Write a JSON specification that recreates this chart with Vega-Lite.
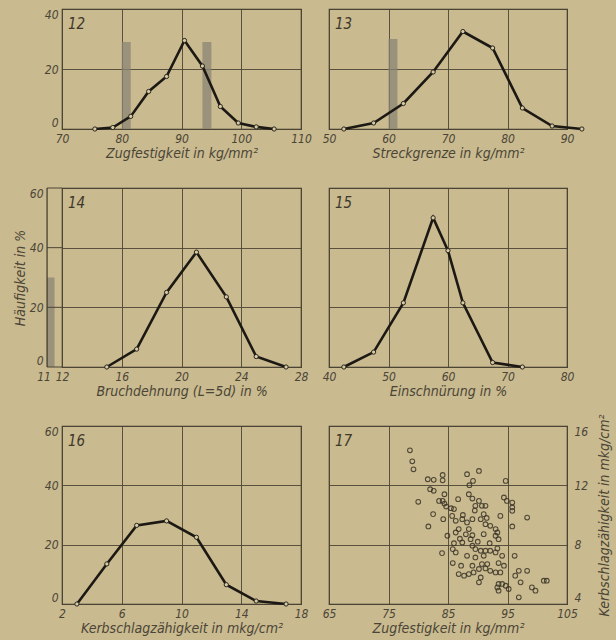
{
  "$schema": "https://vega.github.io/schema/vega-lite/v6.json",
  "background": "#c9ba8f",
  "padding": {"left": 12, "top": 7, "right": 4, "bottom": 4},
  "bounds": "flush",
  "columns": 2,
  "spacing": {"row": 59, "column": 28},
  "datasets": {
    "p12": [{"x": 75.5, "y": 0}, {"x": 78.5, "y": 0.5}, {"x": 81.5, "y": 4.2}, {"x": 84.5, "y": 12.5}, {"x": 87.5, "y": 17.5}, {"x": 90.5, "y": 29.5}, {"x": 93.5, "y": 21}, {"x": 96.5, "y": 7.5}, {"x": 99.5, "y": 2}, {"x": 102.5, "y": 0.7}, {"x": 105.5, "y": 0}],
    "b12": [{"x0": 80, "x1": 81.5, "y0": 0, "y1": 29}, {"x0": 93.5, "x1": 95, "y0": 0, "y1": 29}],
    "p13": [{"x": 52.5, "y": 0}, {"x": 57.5, "y": 2}, {"x": 62.5, "y": 8.5}, {"x": 67.5, "y": 19}, {"x": 72.5, "y": 32.5}, {"x": 77.5, "y": 27}, {"x": 82.5, "y": 7}, {"x": 87.5, "y": 1}, {"x": 92.5, "y": 0}],
    "b13": [{"x0": 60, "x1": 61.5, "y0": 0, "y1": 30}],
    "p14": [{"x": 15, "y": 0}, {"x": 17, "y": 6}, {"x": 19, "y": 25}, {"x": 21, "y": 38.5}, {"x": 23, "y": 23.5}, {"x": 25, "y": 3.5}, {"x": 27, "y": 0}],
    "b14": [{"x0": 11, "x1": 11.5, "y0": 0, "y1": 30}],
    "g14": [{"y": 0}, {"y": 20}, {"y": 40}, {"y": 60}],
    "p15": [{"x": 42.5, "y": 0}, {"x": 47.5, "y": 5}, {"x": 52.5, "y": 21.5}, {"x": 57.5, "y": 50}, {"x": 60, "y": 39}, {"x": 62.5, "y": 21.5}, {"x": 67.5, "y": 1.5}, {"x": 72.5, "y": 0}],
    "p16": [{"x": 3, "y": 0}, {"x": 5, "y": 13.5}, {"x": 7, "y": 26.5}, {"x": 9, "y": 28}, {"x": 11, "y": 22.5}, {"x": 13, "y": 6.5}, {"x": 15, "y": 1}, {"x": 17, "y": 0}],
    "p17": [
      {"z": 78.6, "k": 14.36}, {"z": 79.0, "k": 13.62}, {"z": 79.2, "k": 13.08}, {"z": 81.6, "k": 12.41}, {"z": 82.6, "k": 12.37},
      {"z": 84.1, "k": 12.7}, {"z": 84.1, "k": 12.34}, {"z": 88.2, "k": 12.75}, {"z": 90.2, "k": 12.97}, {"z": 89.2, "k": 12.3},
      {"z": 88.6, "k": 12.01}, {"z": 94.7, "k": 12.3}, {"z": 82.0, "k": 11.74}, {"z": 82.6, "k": 11.63}, {"z": 84.4, "k": 11.4},
      {"z": 80.0, "k": 10.89}, {"z": 83.5, "k": 10.95}, {"z": 84.1, "k": 10.95}, {"z": 84.4, "k": 10.77}, {"z": 84.7, "k": 10.57},
      {"z": 85.5, "k": 10.46}, {"z": 86.7, "k": 11.07}, {"z": 88.5, "k": 11.4}, {"z": 89.1, "k": 11.11}, {"z": 90.2, "k": 10.95},
      {"z": 90.7, "k": 10.62}, {"z": 91.3, "k": 10.62}, {"z": 89.6, "k": 10.62}, {"z": 94.4, "k": 11.18}, {"z": 94.9, "k": 10.95},
      {"z": 95.8, "k": 10.84}, {"z": 95.8, "k": 10.51}, {"z": 95.8, "k": 10.28}, {"z": 82.5, "k": 10.06}, {"z": 84.2, "k": 9.72},
      {"z": 81.7, "k": 9.23}, {"z": 85.7, "k": 9.94}, {"z": 86.3, "k": 9.61}, {"z": 87.4, "k": 9.72}, {"z": 88.2, "k": 9.5},
      {"z": 89.1, "k": 9.72}, {"z": 90.5, "k": 9.72}, {"z": 91.0, "k": 10.06}, {"z": 91.3, "k": 9.38}, {"z": 92.1, "k": 9.27},
      {"z": 93.0, "k": 9.05}, {"z": 93.8, "k": 9.94}, {"z": 95.8, "k": 9.23}, {"z": 98.3, "k": 9.83}, {"z": 84.9, "k": 8.6},
      {"z": 86.3, "k": 8.82}, {"z": 86.8, "k": 9.05}, {"z": 88.5, "k": 9.05}, {"z": 89.1, "k": 8.64}, {"z": 88.8, "k": 8.37},
      {"z": 91.0, "k": 8.71}, {"z": 93.0, "k": 8.6}, {"z": 93.5, "k": 8.37}, {"z": 93.3, "k": 8.82}, {"z": 86.0, "k": 8.1},
      {"z": 85.8, "k": 7.7}, {"z": 86.3, "k": 7.48}, {"z": 87.4, "k": 8.15}, {"z": 89.1, "k": 7.93}, {"z": 89.6, "k": 7.7},
      {"z": 90.5, "k": 7.59}, {"z": 91.3, "k": 7.59}, {"z": 92.1, "k": 7.59}, {"z": 93.0, "k": 7.48}, {"z": 93.3, "k": 7.75},
      {"z": 84.0, "k": 7.43}, {"z": 88.2, "k": 7.25}, {"z": 89.6, "k": 7.14}, {"z": 91.0, "k": 7.25}, {"z": 94.1, "k": 7.25},
      {"z": 96.2, "k": 7.25}, {"z": 85.8, "k": 6.76}, {"z": 87.2, "k": 6.58}, {"z": 89.1, "k": 6.58}, {"z": 90.7, "k": 6.69},
      {"z": 91.6, "k": 6.69}, {"z": 93.5, "k": 6.76}, {"z": 94.4, "k": 6.58}, {"z": 90.2, "k": 6.36}, {"z": 91.3, "k": 6.4},
      {"z": 92.1, "k": 6.24}, {"z": 93.0, "k": 6.13}, {"z": 93.8, "k": 6.13}, {"z": 86.8, "k": 6.02}, {"z": 87.7, "k": 5.91},
      {"z": 88.5, "k": 6.02}, {"z": 89.3, "k": 6.13}, {"z": 90.5, "k": 5.79}, {"z": 90.2, "k": 5.46}, {"z": 93.5, "k": 5.35},
      {"z": 94.1, "k": 5.35}, {"z": 93.3, "k": 5.12}, {"z": 93.5, "k": 4.9}, {"z": 95.2, "k": 5.01}, {"z": 96.9, "k": 6.24},
      {"z": 98.3, "k": 6.24}, {"z": 96.3, "k": 5.91}, {"z": 97.2, "k": 5.46}, {"z": 99.1, "k": 5.12}, {"z": 99.7, "k": 4.9},
      {"z": 101.1, "k": 5.57}, {"z": 101.6, "k": 5.57}, {"z": 96.9, "k": 4.45}, {"z": 94.7, "k": 5.23}, {"z": 87.0, "k": 8.4},
      {"z": 88.0, "k": 8.7}, {"z": 90.0, "k": 8.2}, {"z": 92.0, "k": 8.1}, {"z": 91.5, "k": 9.8}, {"z": 89.5, "k": 10.3},
      {"z": 87.5, "k": 10.0}, {"z": 86.0, "k": 10.4}
    ]
  },
  "concat": [
    {
      "width": 239, "height": 120,
      "layer": [
        {"data": {"name": "b12"}, "mark": {"type": "rect", "color": "#8a8474", "opacity": 0.75},
         "encoding": {
           "x": {"field": "x0", "type": "quantitative", "scale": {"domain": [70, 110], "nice": false, "zero": false},
                 "axis": {"values": [70, 80, 90, 100, 110], "title": "Zugfestigkeit in kg/mm²", "labelDx": 2}},
           "x2": {"field": "x1"},
           "y": {"field": "y0", "type": "quantitative", "scale": {"domain": [0, 40], "nice": false},
                 "axis": {"values": [0, 20, 40], "title": null, "labelFlush": true}},
           "y2": {"field": "y1"}}},
        {"data": {"name": "p12"}, "mark": {"type": "line", "color": "#1c1914", "strokeWidth": 2.6},
         "encoding": {"x": {"field": "x", "type": "quantitative"}, "y": {"field": "y", "type": "quantitative"}}},
        {"data": {"name": "p12"}, "mark": {"type": "point", "filled": true, "fill": "#d6caa3", "stroke": "#2a2620", "strokeWidth": 1, "size": 18, "opacity": 1},
         "encoding": {"x": {"field": "x", "type": "quantitative"}, "y": {"field": "y", "type": "quantitative"}}},
        {"data": {"values": [{"label": "12"}]}, "mark": {"type": "text", "align": "left", "baseline": "top", "dx": 6, "dy": 8, "fontSize": 15, "fontStyle": "italic", "color": "#3e382b"},
         "encoding": {"x": {"datum": 70, "type": "quantitative"}, "y": {"datum": 40, "type": "quantitative"}, "text": {"field": "label"}}}
      ]
    },
    {
      "width": 238, "height": 120,
      "layer": [
        {"data": {"name": "b13"}, "mark": {"type": "rect", "color": "#8a8474", "opacity": 0.75},
         "encoding": {
           "x": {"field": "x0", "type": "quantitative", "scale": {"domain": [50, 90], "nice": false, "zero": false},
                 "axis": {"values": [50, 60, 70, 80, 90], "title": "Streckgrenze in kg/mm²"}},
           "x2": {"field": "x1"},
           "y": {"field": "y0", "type": "quantitative", "scale": {"domain": [0, 40], "nice": false},
                 "axis": {"values": [0, 20, 40], "labels": false, "title": null}},
           "y2": {"field": "y1"}}},
        {"data": {"name": "p13"}, "mark": {"type": "line", "color": "#1c1914", "strokeWidth": 2.6},
         "encoding": {"x": {"field": "x", "type": "quantitative"}, "y": {"field": "y", "type": "quantitative"}}},
        {"data": {"name": "p13"}, "mark": {"type": "point", "filled": true, "fill": "#d6caa3", "stroke": "#2a2620", "strokeWidth": 1, "size": 18, "opacity": 1},
         "encoding": {"x": {"field": "x", "type": "quantitative"}, "y": {"field": "y", "type": "quantitative"}}},
        {"data": {"values": [{"label": "13"}]}, "mark": {"type": "text", "align": "left", "baseline": "top", "dx": 6, "dy": 8, "fontSize": 15, "fontStyle": "italic", "color": "#3e382b"},
         "encoding": {"x": {"datum": 50, "type": "quantitative"}, "y": {"datum": 40, "type": "quantitative"}, "text": {"field": "label"}}}
      ]
    },
    {
      "width": 239, "height": 179,
      "layer": [
        {"data": {"name": "b14"}, "mark": {"type": "rect", "color": "#8a8474", "opacity": 0.75},
         "encoding": {
           "x": {"field": "x0", "type": "quantitative", "scale": {"domain": [12, 28], "nice": false, "zero": false},
                 "axis": {"values": [12, 16, 20, 24, 28], "title": "Bruchdehnung (L=5d) in %"}},
           "x2": {"field": "x1"},
           "y": {"field": "y0", "type": "quantitative", "scale": {"domain": [0, 60], "nice": false},
                 "axis": {"values": [0, 20, 40, 60], "title": "Häufigkeit in %", "labelPadding": 19, "titlePadding": 2, "labelFlush": true}},
           "y2": {"field": "y1"}}},
        {"data": {"name": "g14"}, "mark": {"type": "rule", "color": "#4d4535", "strokeWidth": 1},
         "encoding": {"x": {"datum": 11, "type": "quantitative"}, "x2": {"datum": 12}, "y": {"field": "y", "type": "quantitative"}}},
        {"data": {"values": [{"label": "11"}]}, "mark": {"type": "rule", "color": "#3d3628", "strokeWidth": 1.2},
         "encoding": {"x": {"datum": 11, "type": "quantitative"}, "y": {"datum": 0, "type": "quantitative"}, "y2": {"datum": 60}}},
        {"data": {"values": [{"label": "11"}]}, "mark": {"type": "text", "align": "center", "baseline": "top", "dx": -3, "dy": 5, "fontSize": 12, "fontStyle": "italic", "color": "#4b4537"},
         "encoding": {"x": {"datum": 11, "type": "quantitative"}, "y": {"datum": 0, "type": "quantitative"}, "text": {"field": "label"}}},
        {"data": {"name": "p14"}, "mark": {"type": "line", "color": "#1c1914", "strokeWidth": 2.6},
         "encoding": {"x": {"field": "x", "type": "quantitative"}, "y": {"field": "y", "type": "quantitative"}}},
        {"data": {"name": "p14"}, "mark": {"type": "point", "filled": true, "fill": "#d6caa3", "stroke": "#2a2620", "strokeWidth": 1, "size": 18, "opacity": 1},
         "encoding": {"x": {"field": "x", "type": "quantitative"}, "y": {"field": "y", "type": "quantitative"}}},
        {"data": {"values": [{"label": "14"}]}, "mark": {"type": "text", "align": "left", "baseline": "top", "dx": 6, "dy": 8, "fontSize": 15, "fontStyle": "italic", "color": "#3e382b"},
         "encoding": {"x": {"datum": 12, "type": "quantitative"}, "y": {"datum": 60, "type": "quantitative"}, "text": {"field": "label"}}}
      ]
    },
    {
      "width": 238, "height": 179,
      "layer": [
        {"data": {"name": "p15"}, "mark": {"type": "line", "color": "#1c1914", "strokeWidth": 2.6},
         "encoding": {
           "x": {"field": "x", "type": "quantitative", "scale": {"domain": [40, 80], "nice": false, "zero": false},
                 "axis": {"values": [40, 50, 60, 70, 80], "title": "Einschnürung in %"}},
           "y": {"field": "y", "type": "quantitative", "scale": {"domain": [0, 60], "nice": false},
                 "axis": {"values": [0, 20, 40, 60], "labels": false, "title": null}}}},
        {"data": {"name": "p15"}, "mark": {"type": "point", "filled": true, "fill": "#d6caa3", "stroke": "#2a2620", "strokeWidth": 1, "size": 18, "opacity": 1},
         "encoding": {"x": {"field": "x", "type": "quantitative"}, "y": {"field": "y", "type": "quantitative"}}},
        {"data": {"values": [{"label": "15"}]}, "mark": {"type": "text", "align": "left", "baseline": "top", "dx": 6, "dy": 8, "fontSize": 15, "fontStyle": "italic", "color": "#3e382b"},
         "encoding": {"x": {"datum": 40, "type": "quantitative"}, "y": {"datum": 60, "type": "quantitative"}, "text": {"field": "label"}}}
      ]
    },
    {
      "width": 239, "height": 178,
      "layer": [
        {"data": {"name": "p16"}, "mark": {"type": "line", "color": "#1c1914", "strokeWidth": 2.6},
         "encoding": {
           "x": {"field": "x", "type": "quantitative", "scale": {"domain": [2, 18], "nice": false, "zero": false},
                 "axis": {"values": [2, 6, 10, 14, 18], "title": "Kerbschlagzähigkeit in mkg/cm²", "labelDx": 2}},
           "y": {"field": "y", "type": "quantitative", "scale": {"domain": [0, 60], "nice": false},
                 "axis": {"values": [0, 20, 40, 60], "title": null, "labelFlush": true}}}},
        {"data": {"name": "p16"}, "mark": {"type": "point", "filled": true, "fill": "#d6caa3", "stroke": "#2a2620", "strokeWidth": 1, "size": 18, "opacity": 1},
         "encoding": {"x": {"field": "x", "type": "quantitative"}, "y": {"field": "y", "type": "quantitative"}}},
        {"data": {"values": [{"label": "16"}]}, "mark": {"type": "text", "align": "left", "baseline": "top", "dx": 6, "dy": 8, "fontSize": 15, "fontStyle": "italic", "color": "#3e382b"},
         "encoding": {"x": {"datum": 2, "type": "quantitative"}, "y": {"datum": 60, "type": "quantitative"}, "text": {"field": "label"}}}
      ]
    },
    {
      "width": 238, "height": 178,
      "layer": [
        {"data": {"name": "p17"}, "mark": {"type": "point", "shape": "circle", "filled": false, "stroke": "#3a3428", "strokeWidth": 1.1, "size": 22, "opacity": 0.85},
         "encoding": {
           "x": {"field": "z", "type": "quantitative", "scale": {"domain": [65, 105], "nice": false, "zero": false},
                 "axis": {"values": [65, 75, 85, 95, 105], "title": "Zugfestigkeit in kg/mm²"}},
           "y": {"field": "k", "type": "quantitative", "scale": {"domain": [4, 16], "nice": false, "zero": false},
                 "axis": {"orient": "right", "values": [4, 8, 12, 16], "title": "Kerbschlagzähigkeit in mkg/cm²", "titleAngle": 270, "titleBaseline": "top", "labelPadding": 7, "titlePadding": 10, "labelFlush": true}}}},
        {"data": {"values": [{"label": "17"}]}, "mark": {"type": "text", "align": "left", "baseline": "top", "dx": 6, "dy": 8, "fontSize": 15, "fontStyle": "italic", "color": "#3e382b"},
         "encoding": {"x": {"datum": 65, "type": "quantitative"}, "y": {"datum": 16, "type": "quantitative"}, "text": {"field": "label"}}}
      ]
    }
  ],
  "config": {
    "font": "DejaVu Sans Condensed, Liberation Sans Narrow, sans-serif",
    "view": {"stroke": "#3d3628", "strokeWidth": 1.2},
    "axis": {
      "grid": true, "gridColor": "#4d4535", "gridWidth": 1, "gridOpacity": 0.9,
      "domain": false, "ticks": false,
      "labelFontSize": 12, "labelFontStyle": "italic", "labelColor": "#4b4537",
      "labelFlush": false, "labelOverlap": false, "labelBound": false, "labelPadding": 4,
      "titleFontSize": 14, "titleFontStyle": "italic", "titleFontWeight": "normal", "titleColor": "#4b4537", "titlePadding": 2
    }
  }
}
